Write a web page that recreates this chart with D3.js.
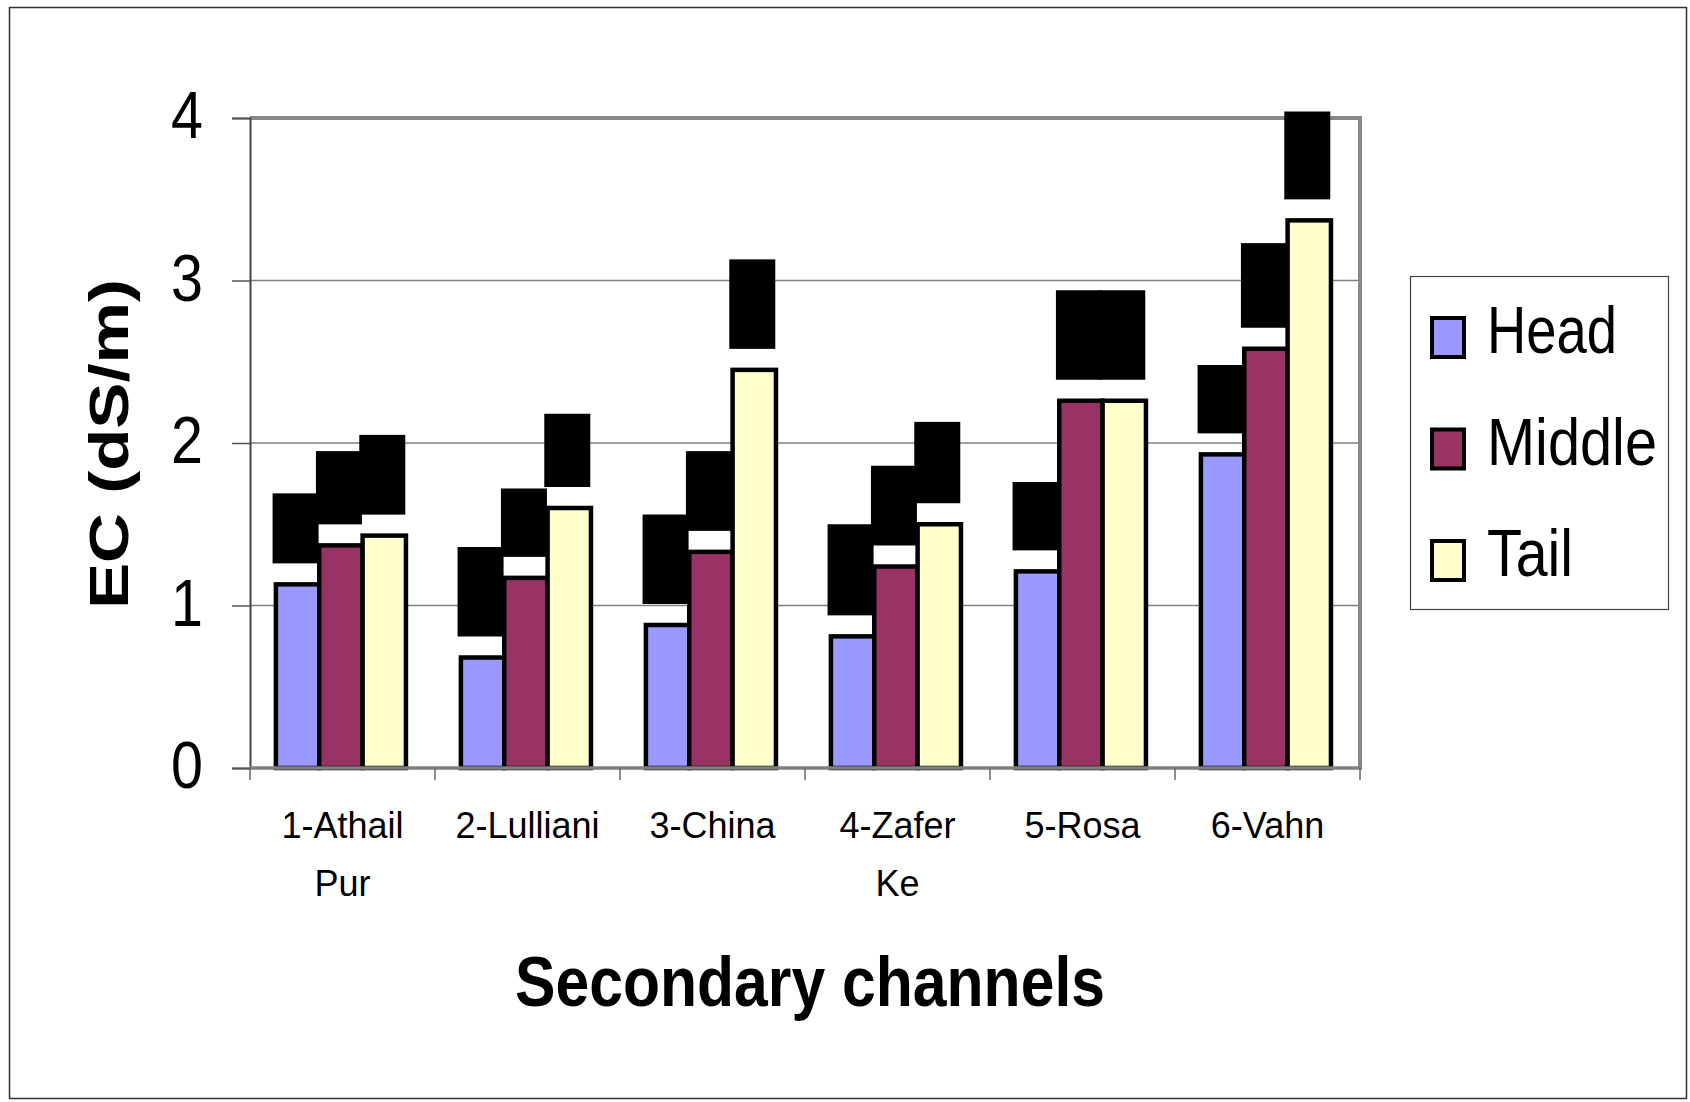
<!DOCTYPE html>
<html>
<head>
<meta charset="utf-8">
<script src="https://cdn.jsdelivr.net/npm/d3@7"></script>
<style>
  html, body { margin: 0; padding: 0; background: #fff; }
  svg { display: block; font-family: "Liberation Sans", Arial, Helvetica, sans-serif; }
</style>
</head>
<body>
<svg id="chart" width="1690" height="1102"></svg>
<script>
// ---- data -------------------------------------------------------------
const categories = ["1-Athail Pur", "2-Lulliani", "3-China", "4-Zafer Ke", "5-Rosa", "6-Vahn"];
const seriesNames = ["Head", "Middle", "Tail"];

// EC (dS/m) per secondary channel
const headEC   = [1.13, 0.68, 0.88, 0.81, 1.21, 1.93];
const middleEC = [1.37, 1.17, 1.33, 1.24, 2.26, 2.58];
const tailEC   = [1.43, 1.60, 2.45, 1.50, 2.26, 3.37];

// upper edge of the filled label tag placed over each bar (EC units)
const headTag   = [1.69, 1.36, 1.56, 1.50, 1.76, 2.48];
const middleTag = [1.95, 1.72, 1.95, 1.86, 2.94, 3.23];
const tailTag   = [2.05, 2.18, 3.13, 2.13, 2.94, 4.04];

const yTickValues = [0, 1, 2, 3, 4];
const seriesColors = ["#9999FF", "#993366", "#FFFFCC"];

// ---- layout -----------------------------------------------------------
const svg = d3.select("#chart");
const plot = { left: 250, right: 1360, top: 118, bottom: 768 };

const x0 = d3.scaleBand().domain(categories).range([plot.left, plot.right]).padding(0);
const bw = x0.bandwidth();
const x1 = d3.scaleBand().domain(seriesNames).range([bw * 0.14, bw * 0.843]).padding(0);
const y = d3.scaleLinear().domain([0, 4]).range([plot.bottom, plot.top]);

const valuesBySeries = [headEC, middleEC, tailEC];
const tagsBySeries = [headTag, middleTag, tailTag];

const rows = [];
seriesNames.forEach((s, si) => {
  categories.forEach((c, ci) => {
    rows.push({ cat: c, series: s, si, value: valuesBySeries[si][ci], tag: tagsBySeries[si][ci] });
  });
});

// outer frame
svg.append("rect")
  .attr("x", 9.5).attr("y", 7.5).attr("width", 1677).attr("height", 1091)
  .attr("fill", "none").attr("stroke", "#333").attr("stroke-width", 1.5);

// horizontal gridlines
svg.append("g").selectAll("line")
  .data(yTickValues.filter(v => v > 0 && v < 4))
  .join("line")
  .attr("x1", plot.left).attr("x2", plot.right)
  .attr("y1", d => y(d)).attr("y2", d => y(d))
  .attr("stroke", "#808080").attr("stroke-width", 1.5);

// plot-area border (top and right)
svg.append("path")
  .attr("d", `M${plot.left},${y(4)}H${plot.right}V${plot.bottom}`)
  .attr("fill", "none").attr("stroke", "#888").attr("stroke-width", 4);

// bars
const groups = svg.append("g").selectAll("g")
  .data(categories).join("g")
  .attr("transform", d => `translate(${x0(d)},0)`);

groups.selectAll("rect")
  .data(c => rows.filter(r => r.cat === c))
  .join("rect")
  .attr("x", d => x1(d.series))
  .attr("y", d => y(d.value))
  .attr("width", x1.bandwidth())
  .attr("height", d => y(0) - y(d.value))
  .attr("fill", d => seriesColors[d.si])
  .attr("stroke", "#000").attr("stroke-width", 4.5);

// y axis
const yAxis = svg.append("g")
  .attr("transform", `translate(${plot.left},0)`)
  .call(d3.axisLeft(y).tickValues(yTickValues).tickSize(18).tickFormat(d3.format("d")));
yAxis.select(".domain").attr("stroke", "#444").attr("stroke-width", 2);
yAxis.selectAll(".tick line").attr("stroke", "#555").attr("stroke-width", 1.5);
yAxis.selectAll(".tick text")
  .attr("font-size", 66).attr("fill", "#000")
  .attr("font-family", '"Liberation Sans", Arial, sans-serif')
  .attr("transform", "scale(0.87,1)")
  .attr("x", -47 / 0.87).attr("dy", "0.30em");

// x axis line and ticks at band edges
svg.append("line")
  .attr("x1", plot.left).attr("x2", plot.right + 2)
  .attr("y1", plot.bottom).attr("y2", plot.bottom)
  .attr("stroke", "#808080").attr("stroke-width", 3.5);
svg.append("g").selectAll("line")
  .data(d3.range(categories.length + 1))
  .join("line")
  .attr("x1", i => plot.left + i * x0.step()).attr("x2", i => plot.left + i * x0.step())
  .attr("y1", plot.bottom).attr("y2", plot.bottom + 12)
  .attr("stroke", "#666").attr("stroke-width", 1.5);

// category labels (wrapped at the space)
const catLabels = svg.append("g").selectAll("text")
  .data(categories).join("text")
  .attr("x", d => x0(d) + bw / 2)
  .attr("y", plot.bottom + 70)
  .attr("text-anchor", "middle")
  .attr("font-size", 36).attr("fill", "#000");
catLabels.each(function (d) {
  const parts = d.split(" ");
  const t = d3.select(this);
  parts.forEach((p, i) => {
    t.append("tspan").attr("x", x0(d) + bw / 2).attr("dy", i === 0 ? 0 : 58).text(p);
  });
});

// filled label tags above bars
svg.append("g").selectAll("rect")
  .data(rows).join("rect")
  .attr("x", d => x0(d.cat) + x1(d.series) + x1.bandwidth() / 2 - 25)
  .attr("y", d => y(d.tag))
  .attr("width", 46)
  .attr("height", d => Math.max(0, y(d.value) - 21 - y(d.tag)))
  .attr("fill", "#000");

// axis titles
svg.append("text")
  .attr("transform", `translate(128,444) rotate(-90)`)
  .attr("text-anchor", "middle")
  .attr("font-size", 56).attr("font-weight", "bold")
  .attr("textLength", 330).attr("lengthAdjust", "spacingAndGlyphs")
  .text("EC (dS/m)");

svg.append("text")
  .attr("x", 810).attr("y", 1006)
  .attr("text-anchor", "middle")
  .attr("font-size", 70).attr("font-weight", "bold")
  .attr("textLength", 590).attr("lengthAdjust", "spacingAndGlyphs")
  .text("Secondary channels");

// legend
const legend = svg.append("g");
legend.append("rect")
  .attr("x", 1410.5).attr("y", 276.5).attr("width", 258).attr("height", 333)
  .attr("fill", "#fff").attr("stroke", "#444").attr("stroke-width", 1.2);
const legendWidths = [130, 170, 86];
const items = legend.selectAll("g.item")
  .data(seriesNames).join("g").attr("class", "item")
  .attr("transform", (d, i) => `translate(0,${i * 111.5})`);
items.append("rect")
  .attr("x", 1432).attr("y", 318).attr("width", 32).attr("height", 39)
  .attr("fill", (d, i) => seriesColors[i])
  .attr("stroke", "#000").attr("stroke-width", 4);
items.append("text")
  .attr("x", 1487).attr("y", 353)
  .attr("font-size", 67).attr("fill", "#000")
  .attr("textLength", (d, i) => legendWidths[i]).attr("lengthAdjust", "spacingAndGlyphs")
  .text(d => d);
</script>
</body>
</html>
